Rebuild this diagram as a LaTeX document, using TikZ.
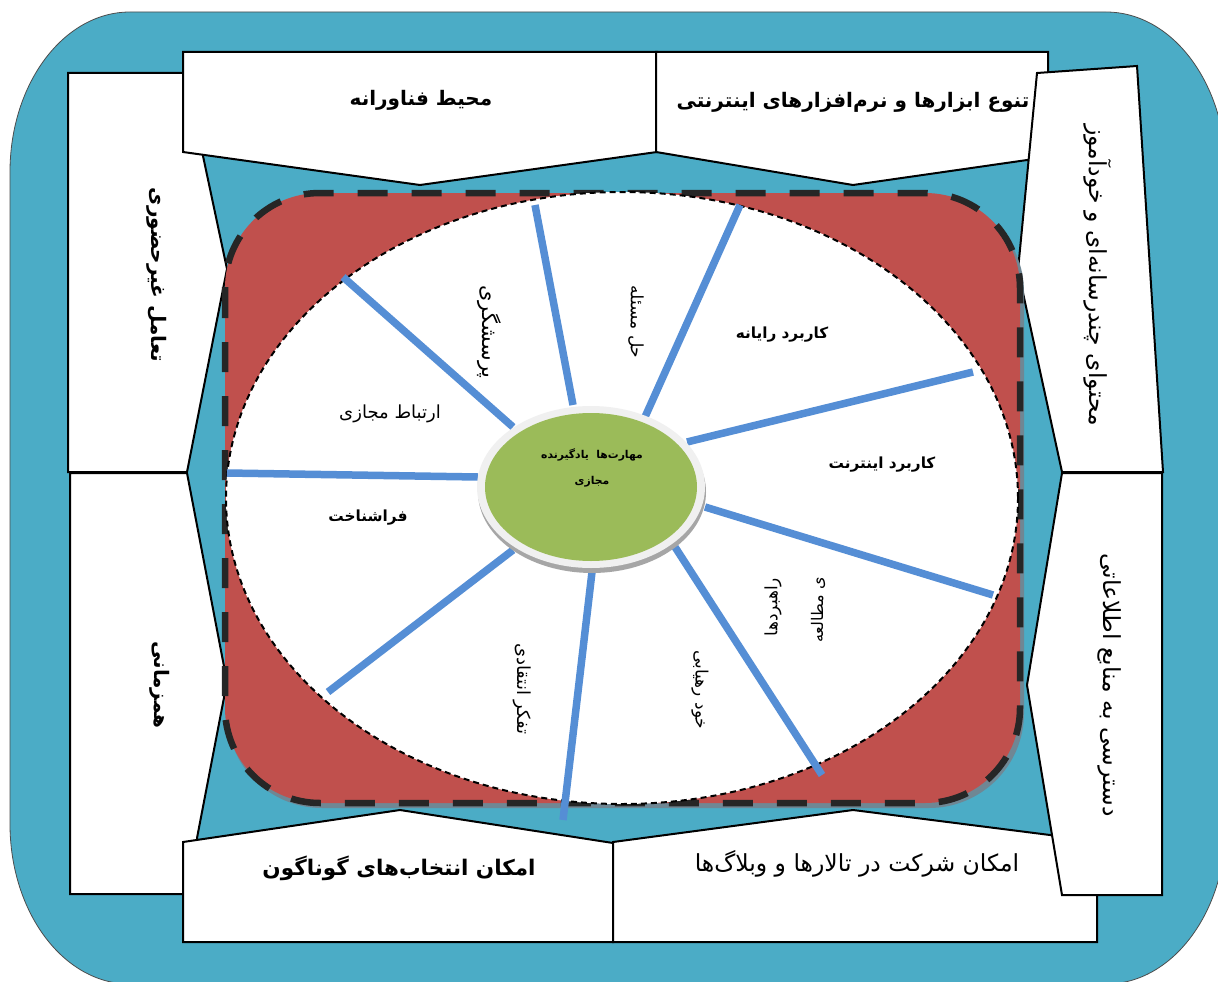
\documentclass[tikz,border=0pt]{standalone}
\usepackage{fontspec}
\usetikzlibrary{shapes.geometric}
\newfontfamily\fa[Script=Arabic]{DejaVu Sans}
\TeXXeTstate=1
\newcommand\rl[1]{\beginR #1\endR}
\definecolor{tealbg}{HTML}{4BACC6}
\definecolor{redf}{HTML}{C0504D}
\definecolor{greenf}{HTML}{9BBB59}
\definecolor{spokec}{HTML}{558ED5}
\definecolor{dashc}{HTML}{262626}
\definecolor{shadowc}{HTML}{6F8794}
\begin{document}
\begin{tikzpicture}[x=1pt,y=-1pt,
  box/.style={draw=black, line width=2pt, fill=white, line join=miter},
  ttlb/.style={font=\fa\bfseries\fontsize{20}{24}\selectfont, inner sep=0pt},
  ttlr/.style={font=\fa\fontsize{23.5}{28}\selectfont, inner sep=0pt},
  inb/.style={font=\fa\bfseries\fontsize{15.3}{18}\selectfont, inner sep=0pt},
  inr/.style={font=\fa\fontsize{18}{21}\selectfont, inner sep=0pt},
  ins/.style={font=\fa\fontsize{17}{20}\selectfont, inner sep=0pt},
  ctr/.style={font=\fa\bfseries\fontsize{10.8}{13}\selectfont, inner sep=0pt},
  spoke/.style={draw=spokec, line width=7.5pt}]
\useasboundingbox (0,0) rectangle (1218,982);
% outer teal background
\draw[fill=tealbg, draw=black!70, line width=0.8pt]
  (10,172) arc[start angle=180, end angle=90, x radius=120pt, y radius=160pt]
  -- (1106,12) arc[start angle=90, end angle=0, x radius=120pt, y radius=160pt]
  -- (1226,824) arc[start angle=0, end angle=-90, x radius=120pt, y radius=160pt]
  -- (130,984) arc[start angle=-90, end angle=-180, x radius=120pt, y radius=160pt]
  -- cycle;
% side boxes
\draw[box] (68,73) -- (203,73) -- (203,156) -- (227,269) -- (187,472) -- (68,472) -- cycle;
\draw[box] (70,473) -- (187,473) -- (227,682) -- (197,838) -- (197,894) -- (70,894) -- cycle;
\draw[box] (183,52) -- (657,52) -- (657,152) -- (420,185) -- (183,152) -- cycle;
\draw[box] (656,52) -- (1048,52) -- (1048,157) -- (853,185) -- (656,152) -- cycle;
\draw[box] (1037,73) -- (1137,66) -- (1163,472) -- (1062,472) -- (1018,270) -- cycle;
\draw[box] (183,842) -- (400,810) -- (613,843) -- (613,942) -- (183,942) -- cycle;
\draw[box] (613,842) -- (853,810) -- (1050,835) -- (1097,835) -- (1097,942) -- (613,942) -- cycle;
\draw[box] (1062,473) -- (1162,473) -- (1162,895) -- (1062,895) -- (1027,685) -- cycle;
% side texts
\node[ttlb] (t1) at (421,100) {\rl{محیط فناورانه}};
\node[ttlb] (t2) at (853,102) {\rl{تنوع ابزارها و نرم‌افزارهای اینترنتی}};
\node[ttlb, rotate=-90] (t3) at (157,275) {\rl{تعامل غیرحضوری}};
\node[ttlb, rotate=-90] (t4) at (160,685) {\rl{همزمانی}};
\node[ttlr, rotate=-90] (t5) at (1098,275) {\rl{محتوای چندرسانه‌ای و خودآموز}};
\node[ttlr, rotate=-90] (t6) at (1110,685) {\rl{دسترسی به منابع اطلاعاتی}};
\node[ttlb, font=\fa\bfseries\fontsize{21.5}{26}\selectfont] (t7) at (399,868) {\rl{امکان انتخاب‌های گوناگون}};
\node[ttlr] (t8) at (857,864) {\rl{امکان شرکت در تالارها و وبلاگ‌ها}};
% red rounded square with shadow
\fill[shadowc, rounded corners=95pt] (227,197) rectangle (1024,808);
\fill[redf, rounded corners=95pt] (225,193) rectangle (1020,803);
\draw[dashc, line width=6.5pt, dash pattern=on 30pt off 24pt, rounded corners=95pt] (225,193) rectangle (1020,803);
% white ellipse
\draw[fill=white, draw=black, line width=2pt, dash pattern=on 6pt off 4pt] (622,498) ellipse [x radius=396pt, y radius=306pt];
% spokes
\coordinate (s1a) at (513,427); \coordinate (s1b) at (343,277);
\coordinate (s2a) at (573,405); \coordinate (s2b) at (535,205);
\coordinate (s3a) at (645,417); \coordinate (s3b) at (740,205);
\coordinate (s4a) at (687,442); \coordinate (s4b) at (973,372);
\coordinate (s5a) at (705,507); \coordinate (s5b) at (993,595);
\coordinate (s6a) at (675,547); \coordinate (s6b) at (822,775);
\coordinate (s7a) at (592,572); \coordinate (s7b) at (563,820);
\coordinate (s8a) at (513,550); \coordinate (s8b) at (328,692);
\coordinate (s9a) at (478,477); \coordinate (s9b) at (227,473);
\foreach \i in {1,...,9} {\draw[spoke] (s\i a) -- (s\i b);}
% centre ellipse
\fill[black!35] (592,492) ellipse [x radius=114pt, y radius=81pt];
\fill[black!6] (591,487) ellipse [x radius=114pt, y radius=81pt];
\node[ellipse, fill=greenf, minimum width=212pt, minimum height=148pt, inner sep=0pt] (core) at (591,487) {};
\node[ctr] (c1) at (592,455) {\rl{مهارت‌ها\ \ یادگیرنده}};
\node[ctr] (c2) at (592,482) {\rl{مجازی}};
% inner labels
\node[inb] (i1) at (782,335) {\rl{کاربرد رایانه}};
\node[inb] (i2) at (882,465) {\rl{کاربرد اینترنت}};
\node[inb] (i3) at (368,518) {\rl{فراشناخت}};
\node[inr] (i4) at (390,414) {\rl{ارتباط مجازی}};
\node[inr, rotate=-90, font=\fa\fontsize{21}{24}\selectfont] (i5) at (489,332) {\rl{پرسشگری}};
\node[ins, rotate=-90] (i6) at (636,322) {\rl{حل مسئله}};
\node[inr, rotate=-90] (i7) at (522,689) {\rl{تفکر انتقادی}};
\node[ins, rotate=-90] (i8) at (700,690) {\rl{خود رهیابی}};
\node[ins, rotate=90] (i9) at (773,607) {\rl{راهبردها}};
\node[ins, rotate=90, font=\fa\fontsize{16}{19}\selectfont] (i10) at (818,610) {\rl{ی مطالعه}};
\end{tikzpicture}
\end{document}
